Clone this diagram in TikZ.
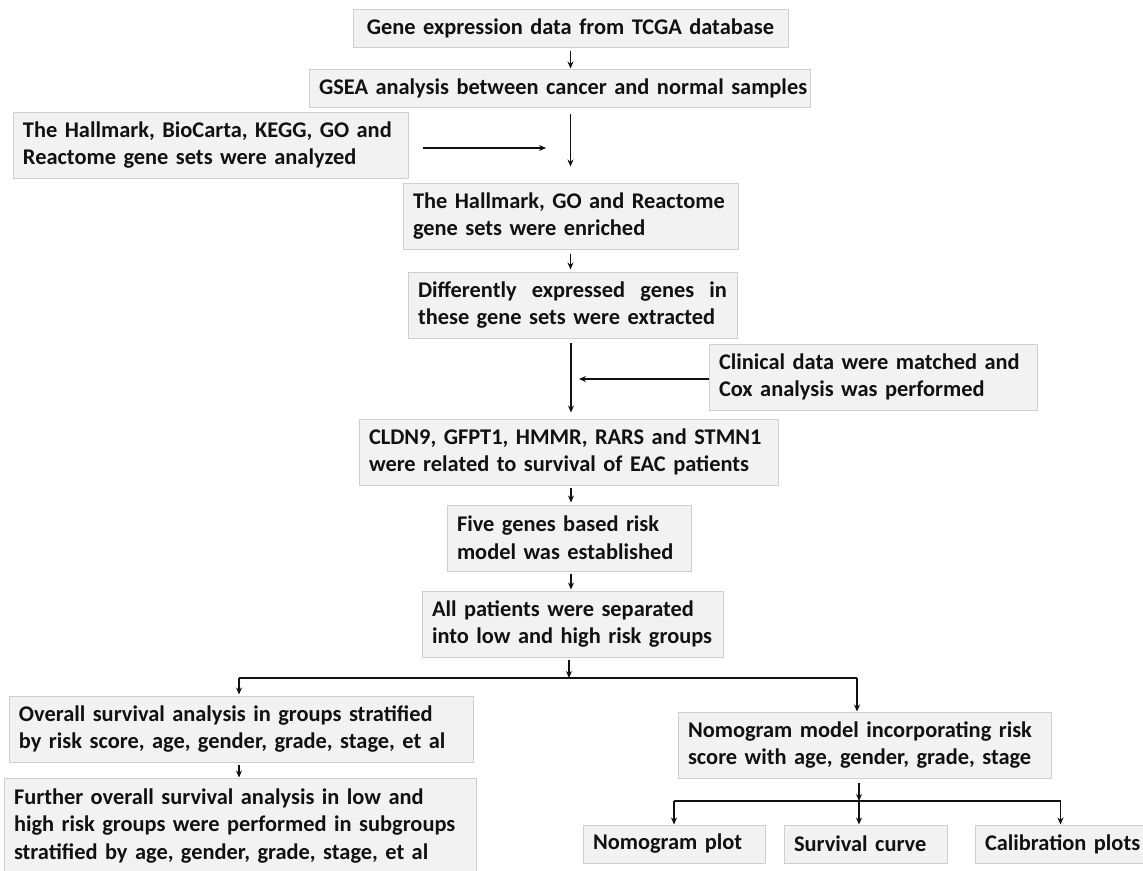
\documentclass[tikz,border=0pt]{standalone}
\usepackage{fontspec}
\setmainfont{Carlito}
\usetikzlibrary{arrows.meta,calc}
\definecolor{boxfill}{HTML}{F2F2F2}
\definecolor{boxline}{HTML}{CFCFCF}
\definecolor{ink}{HTML}{111111}
\tikzset{
  box/.style={draw=boxline, fill=boxfill, line width=1pt, inner xsep=10pt, inner ysep=0pt,
    font=\fontsize{22.4}{27.7}\selectfont\bfseries, text=ink, align=left},
  cbox/.style={box, align=center},
  arr/.style={-{Stealth[length=7pt,width=6pt]}, line width=1.1pt, draw=ink},
  ln/.style={line width=1.1pt, draw=ink}
}
\begin{document}
\begin{tikzpicture}[x=1pt,y=1pt]
\useasboundingbox (0,0) rectangle (1143,-870);
\clip (0,0) rectangle (1143,-870);
\fill[white] (0,0) rectangle (1143,-870);

\node[cbox, text width=415pt, minimum height=38pt] (b1) at (570.5,-28) {\mbox{Gene expression data from TCGA database}};
\node[cbox, text width=481pt, minimum height=38pt] (b2) at (559.5,-88) {\mbox{GSEA analysis between cancer and normal samples}};
\node[box, text width=375pt, minimum height=66pt] (b3) at (210.5,-145) {\mbox{The Hallmark, BioCarta, KEGG, GO and}\\\mbox{Reactome gene sets were analyzed}};
\node[box, text width=315pt, minimum height=66pt] (b4) at (570.5,-216) {\mbox{The Hallmark, GO and Reactome}\\\mbox{gene sets were enriched}};
\node[box, text width=309pt, minimum height=66pt] (b5) at (572.5,-305) {\makebox[309pt][l]{Differently\hfill expressed\hfill genes\hfill in}\\\mbox{these gene sets were extracted}};
\node[box, text width=308pt, minimum height=66pt] (b6) at (873,-377) {\mbox{Clinical data were matched and}\\\mbox{Cox analysis was performed}};
\node[box, text width=399pt, minimum height=66pt] (b7) at (568.5,-452) {\mbox{CLDN9, GFPT1, HMMR, RARS and STMN1}\\\mbox{were related to survival of EAC patients}};
\node[box, text width=224pt, minimum height=66pt] (b8) at (569,-538) {\mbox{Five genes based risk}\\\mbox{model was established}};
\node[box, text width=281pt, minimum height=66pt] (b9) at (572.5,-624) {\mbox{All patients were separated}\\\mbox{into low and high risk groups}};
\node[box, text width=444pt, minimum height=66pt] (b10) at (241,-729) {\mbox{Overall survival analysis in groups stratified}\\\mbox{by risk score, age, gender, grade, stage, et al}};
\node[box, text width=452pt, minimum height=96pt] (b11) at (240,-826) {\mbox{Further overall survival analysis in low and}\\\mbox{high risk groups were performed in subgroups}\\\mbox{stratified by age, gender, grade, stage, et al}};
\node[box, text width=353pt, minimum height=66pt] (b12) at (864.5,-745) {\mbox{Nomogram model incorporating risk}\\\mbox{score with age, gender, grade, stage}};
\node[box, text width=162pt, minimum height=38pt] (b13) at (674,-844) {\mbox{Nomogram plot}};
\node[box, text width=143pt, minimum height=38pt] (b14) at (865.5,-844) {\mbox{Survival curve}};
\node[box, text width=151pt, minimum height=38pt] (b15) at (1060.5,-844) {\mbox{Calibration plots}};

% arrows
\draw[arr, shorten <=3pt] (b1.south) -- (b1.south |- b2.north);
\draw[arr, shorten <=6pt, shorten >=16pt] (b2.south -| b4.north) -- (b4.north);
\coordinate (h1) at (546,-148);
\draw[arr, shorten <=14pt] (h1 -| b3.east) -- (h1);
\draw[arr, shorten <=4pt, shorten >=2pt] (b4.south) -- (b4.south |- b5.north);
\coordinate (v1) at (571,-338);
\draw[arr, shorten <=5pt, shorten >=6pt] (v1) -- (v1 |- b7.north);
\coordinate (h2) at (579,-379);
\draw[arr] (b6.west |- h2) -- (h2);
\draw[arr, shorten <=2pt, shorten >=2pt] (b7.south -| v1) -- (v1 |- b8.north);
\draw[arr, shorten <=2pt, shorten >=1pt] (b8.south -| v1) -- (v1 |- b9.north);
\coordinate (j1) at (569,-678);
\coordinate (j2) at (239,-678);
\coordinate (j3) at (857,-678);
\draw[arr, shorten <=2pt] (b9.south -| j1) -- (j1);
\draw[ln] (j2) -- (j3);
\draw[arr, shorten >=1pt] (j2) -- (j2 |- b10.north);
\draw[arr] (j3) -- (j3 |- b12.north);
\draw[arr, shorten <=2pt] (j2 |- b10.south) -- (j2 |- b11.north);
\coordinate (k1) at (859,-801);
\draw[arr, shorten <=4pt] (k1 |- b12.south) -- (k1);
\draw[ln] (b13.north |- k1) -- (b15.north |- k1);
\draw[arr] (b13.north |- k1) -- (b13.north);
\draw[arr] (k1) -- (k1 |- b14.north);
\draw[arr] (b15.north |- k1) -- (b15.north);
\end{tikzpicture}
\end{document}
